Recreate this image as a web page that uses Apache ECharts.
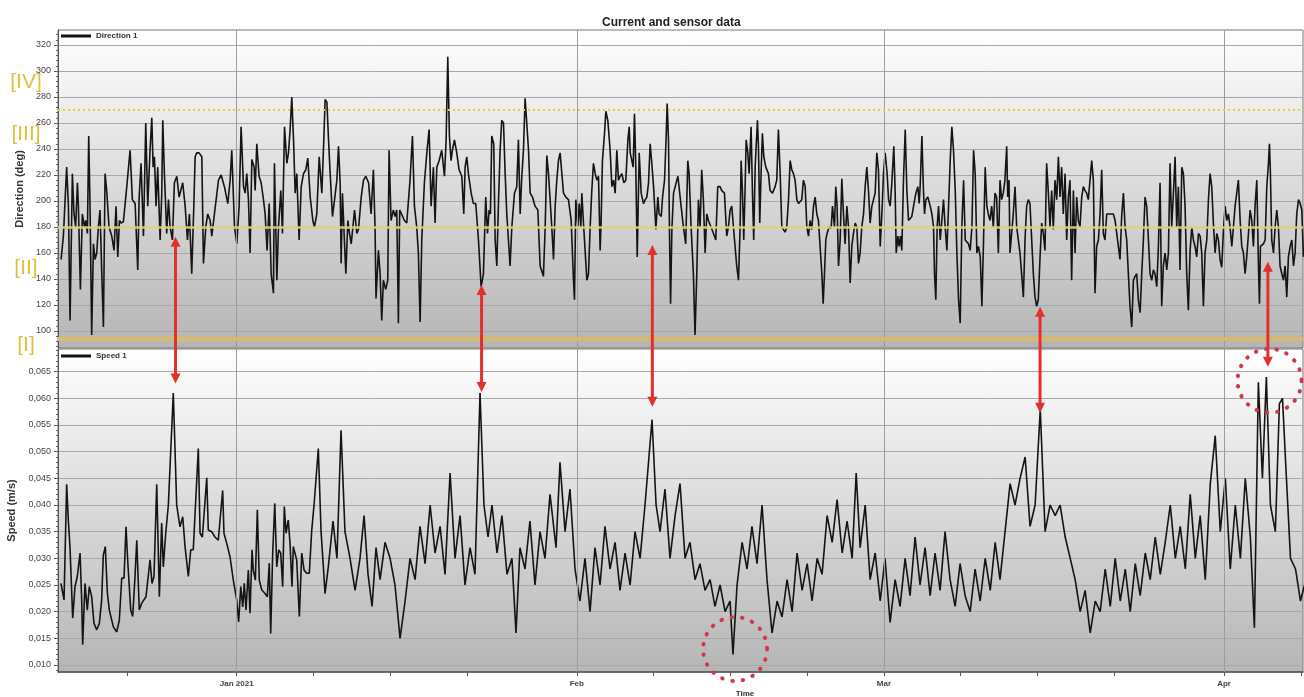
<!DOCTYPE html>
<html>
<head>
<meta charset="utf-8">
<script src="https://cdn.jsdelivr.net/npm/echarts@6/dist/echarts.min.js"></script>
<style>
html,body{margin:0;padding:0;background:#fff;}
#chart{width:1304px;height:697px;}
</style>
</head>
<body>
<div id="chart"></div>
<script>
// Time is measured in days since 2020-12-15 00:00.
const directionPoints = [
[0.99,155],[1.20,173],[1.50,226],[1.66,196],[1.81,108],[2.02,221],[2.17,190],[2.32,180],[2.48,214],[2.57,196],[2.75,132],[2.93,190],[3.12,180],[3.24,185],[3.39,175],[3.51,250],[3.63,196],[3.78,97],[3.94,167],[4.09,155],[4.24,160],[4.39,180],[4.54,193],[4.70,144],[4.85,103],[5.00,221],[5.15,208],[5.36,180],[5.61,173],[5.82,162],[6.00,196],[6.16,157],[6.31,185],[6.46,183],[6.67,184],[6.98,211],[7.28,239],[7.49,201],[7.74,198],[7.98,147],[8.10,201],[8.28,229],[8.50,173],[8.71,260],[8.89,196],[9.10,239],[9.26,264],[9.38,226],[9.50,234],[9.65,196],[9.80,226],[10.02,170],[10.17,206],[10.26,262],[10.41,221],[10.62,175],[10.78,201],[10.93,180],[11.14,170],[11.32,214],[11.54,219],[11.75,203],[11.93,203],[12.08,214],[12.30,196],[12.51,170],[12.69,190],[12.90,144],[13.09,196],[13.21,234],[13.36,237],[13.57,237],[13.82,234],[13.97,152],[14.18,180],[14.36,190],[14.58,185],[14.73,173],[14.97,190],[15.34,216],[15.58,220],[15.88,211],[16.19,198],[16.40,216],[16.55,239],[16.80,180],[17.01,167],[17.22,196],[17.40,257],[17.62,211],[17.77,206],[17.92,221],[18.07,201],[18.22,160],[18.38,232],[18.59,226],[18.68,208],[18.83,244],[19.04,219],[19.23,214],[19.44,201],[19.59,190],[19.77,162],[19.96,198],[20.14,144],[20.35,129],[20.44,229],[20.66,139],[20.81,180],[21.02,208],[21.17,175],[21.36,257],[21.57,229],[21.72,237],[21.87,255],[22.02,280],[22.18,247],[22.33,206],[22.48,221],[22.69,170],[22.88,211],[23.09,221],[23.30,224],[23.48,233],[23.70,203],[23.94,185],[24.09,180],[24.30,190],[24.52,234],[24.76,206],[24.94,247],[25.06,278],[25.22,276],[25.37,247],[25.52,221],[25.73,188],[25.92,201],[26.13,216],[26.28,242],[26.43,214],[26.52,152],[26.64,206],[26.83,167],[26.95,144],[27.13,185],[27.28,175],[27.44,167],[27.59,180],[27.74,193],[27.95,175],[28.10,178],[28.35,203],[28.56,216],[28.77,219],[29.02,214],
[29.25,190],[29.46,224],[29.61,180],[29.70,125],[29.92,162],[30.07,144],[30.22,108],[30.37,139],[30.58,132],[30.77,139],[30.89,239],[31.07,185],[31.28,193],[31.44,188],[31.59,193],[31.74,106],[31.86,193],[32.04,193],[32.29,185],[32.50,183],[32.80,216],[33.02,250],[33.20,196],[33.41,180],[33.56,160],[33.72,107],[33.87,170],[34.11,214],[34.35,239],[34.54,255],[34.72,196],[34.93,226],[35.08,183],[35.24,226],[35.45,231],[35.69,239],[35.94,219],[36.09,247],[36.24,311],[36.39,250],[36.54,231],[36.66,239],[36.85,247],[37.06,237],[37.27,224],[37.52,219],[37.70,190],[37.82,226],[37.97,234],[38.12,221],[38.37,206],[38.58,198],[38.79,198],[39.04,170],[39.28,134],[39.49,144],[39.70,203],[39.86,175],[40.01,193],[40.13,190],[40.25,250],[40.43,244],[40.56,170],[40.71,150],[40.86,198],[41.01,239],[41.16,262],[41.32,260],[41.47,221],[41.62,190],[41.77,170],[41.92,150],[42.08,180],[42.32,206],[42.53,211],[42.68,247],[42.84,190],[42.99,219],[43.14,239],[43.29,279],[43.44,260],[43.60,239],[43.75,206],[43.96,203],[44.20,196],[44.45,193],[44.66,150],[44.96,142],[45.12,180],[45.27,235],[45.42,221],[45.57,201],[45.72,180],[45.88,155],[46.03,196],[46.18,216],[46.33,231],[46.48,237],[46.64,221],[46.79,206],[47.00,203],[47.24,201],[47.49,185],[47.70,139],[47.79,124],[47.91,201],[48.10,180],[48.22,198],[48.37,180],[48.46,206],[48.61,183],[48.76,162],[48.92,139],[49.07,144],[49.22,180],[49.37,208],[49.52,229],[49.68,221],[49.83,216],[49.98,219],[50.13,162],[50.22,185],[50.34,231],[50.53,252],[50.65,269],[50.83,262],[51.04,239],[51.20,211],[51.35,216],[51.50,206],[51.65,239],[51.80,216],[51.96,219],[52.11,221],[52.29,214],[52.47,216],[52.66,247],[52.78,257],[52.87,237],[53.02,231],[53.14,226],[53.26,267],[53.38,226],[53.51,157],[53.69,237],[53.87,206],[54.08,198],[54.24,201],[54.39,203],[54.54,214],[54.69,244],[54.84,229],[55.00,211],[55.21,178],[55.39,203],[55.51,190],[55.70,188],[55.82,203],[56.00,216],[56.15,250],[56.24,275],[56.36,247],[56.46,170],[56.55,121],[56.67,178],[56.82,206],[56.97,211],[57.22,219],
[57.51,196],[57.72,180],[57.93,167],[58.12,231],[58.24,221],[58.42,180],[58.63,144],[58.78,97],[58.94,144],[59.09,201],[59.24,180],[59.39,224],[59.54,201],[59.70,160],[59.85,190],[60.00,185],[60.24,180],[60.46,175],[60.67,170],[60.85,211],[61.06,211],[61.22,208],[61.46,206],[61.67,173],[61.82,180],[61.98,193],[62.13,196],[62.28,180],[62.43,165],[62.58,150],[62.74,139],[62.89,180],[62.98,231],[63.10,208],[63.22,170],[63.34,208],[63.44,247],[63.59,237],[63.71,221],[63.89,257],[64.01,208],[64.13,170],[64.26,226],[64.35,242],[64.47,262],[64.56,242],[64.68,183],[64.80,221],[64.92,252],[65.05,234],[65.23,226],[65.47,221],[65.62,208],[65.84,206],[66.08,211],[66.23,216],[66.38,255],[66.54,221],[66.69,180],[66.84,178],[66.99,176],[67.14,180],[67.30,201],[67.45,231],[67.60,224],[67.75,221],[67.90,216],[68.06,201],[68.21,198],[68.36,198],[68.51,201],[68.66,216],[68.82,211],[68.97,180],[69.12,173],[69.27,185],[69.42,178],[69.58,196],[69.73,203],[69.88,190],[70.03,185],[70.18,184],[70.34,144],[70.46,121],[70.58,144],[70.70,170],[70.82,175],[71.00,180],[71.19,179],[71.31,196],[71.49,180],[71.61,211],[71.73,196],[71.86,150],[72.01,170],[72.16,217],[72.31,190],[72.46,167],[72.62,196],[72.77,180],[72.92,137],[73.07,165],[73.22,175],[73.38,183],[73.53,180],[73.68,152],[73.83,160],[73.98,180],[74.14,190],[74.29,211],[74.44,226],[74.59,208],[74.74,183],[74.90,196],[75.05,201],[75.20,206],[75.35,237],[75.50,224],[75.66,165],[75.81,190],[75.96,221],[76.11,237],[76.29,221],[76.42,201],[76.57,196],[76.72,214],[76.90,242],[77.02,208],[77.12,160],[77.27,173],[77.39,165],[77.51,173],[77.63,162],[77.78,216],[77.94,255],[78.09,208],[78.24,185],[78.39,185],[78.54,188],[78.70,196],[78.91,206],[79.09,211],[79.21,198],[79.30,211],[79.46,250],[79.61,206],[79.70,190],[79.82,201],[80.00,203],[80.22,196],[80.37,190],[80.52,180],[80.61,144],[80.73,124],[80.85,180],[80.98,196],[81.13,170],[81.28,185],[81.43,201],[81.58,180],[81.74,162],[81.89,196],[82.04,231],[82.19,257],[82.34,239],[82.50,208],[82.65,160],[82.80,124],[82.95,106],[83.10,180],[83.26,216],[83.41,170],[83.56,170],[83.71,167],[83.86,162],[84.02,180],[84.17,239],[84.32,221],[84.47,160],[84.62,165],[84.78,157],[84.93,119],[85.08,170],[85.23,226],[85.38,196],
[85.51,190],[85.67,185],[85.82,196],[85.97,180],[86.12,206],[86.27,203],[86.43,160],[86.58,216],[86.73,201],[86.88,206],[87.03,216],[87.19,242],[87.28,203],[87.40,216],[87.49,160],[87.64,175],[87.79,190],[87.95,211],[88.10,180],[88.25,170],[88.40,160],[88.55,144],[88.71,126],[88.86,170],[89.01,196],[89.16,201],[89.31,198],[89.47,170],[89.62,144],[89.77,126],[89.92,119],[90.07,124],[90.23,157],[90.38,183],[90.53,175],[90.68,162],[90.83,229],[90.99,206],[91.14,180],[91.29,208],[91.44,178],[91.59,216],[91.75,201],[91.90,234],[92.05,203],[92.20,226],[92.35,190],[92.51,221],[92.66,170],[92.81,203],[92.96,216],[93.11,139],[93.27,208],[93.42,160],[93.57,203],[93.72,185],[93.87,180],[94.03,203],[94.18,211],[94.33,208],[94.48,206],[94.63,201],[94.79,201],[94.94,231],[95.09,216],[95.24,129],[95.39,165],[95.55,170],[95.70,190],[95.85,224],[96.00,175],[96.15,170],[96.31,190],[96.61,190],[96.91,190],[97.07,185],[97.22,175],[97.37,165],[97.52,155],[97.67,188],[97.83,206],[97.98,180],[98.13,170],[98.28,144],[98.43,119],[98.59,103],[98.74,139],[98.89,142],[99.04,144],[99.19,124],[99.35,114],[99.50,144],[99.65,170],[99.80,203],[99.95,196],[100.11,170],[100.26,144],[100.41,139],[100.56,147],[100.71,144],[100.87,134],[101.02,165],[101.17,214],[101.32,119],[101.47,150],[101.63,160],[101.78,147],[101.93,160],[102.08,229],[102.23,180],[102.39,206],[102.54,234],[102.69,180],[102.84,211],[102.99,147],[103.15,226],[103.30,221],[103.45,196],[103.60,144],[103.75,116],[103.91,162],[104.06,180],[104.21,170],[104.36,165],[104.51,157],[104.67,175],[104.82,173],[104.97,160],[105.12,119],[105.27,160],[105.43,170],[105.58,201],[105.73,221],[105.88,211],[106.03,183],[106.19,160],[106.34,175],[106.49,170],[106.64,155],[106.79,149],[106.95,178],[107.10,196],[107.25,185],[107.40,190],[107.55,180],[107.71,165],[107.86,180],[108.01,196],[108.16,206],[108.31,216],[108.47,185],[108.62,165],[108.77,160],[108.92,144],[109.07,157],[109.23,175],[109.38,193],[109.53,185],[109.68,165],[109.83,196],[109.99,216],[110.14,150],[110.23,121],[110.32,165],[110.44,165],[110.59,167],[110.75,170],[110.90,211],[111.05,229],[111.14,244],[111.23,221],[111.35,170],[111.51,160],[111.66,180],[111.81,193],[111.96,180],[112.11,150],[112.27,144],[112.42,139],[112.57,150],[112.72,126],[112.87,157],[113.03,165],[113.18,170],[113.33,150],[113.48,160],[113.63,190],[113.79,201],[113.94,198],[114.09,193],[114.24,157]
];

const speedPoints = [
[0.98,0.0253],[1.26,0.0222],[1.50,0.0439],[1.65,0.0372],[1.80,0.0322],[2.05,0.0188],[2.26,0.0247],[2.47,0.0266],[2.72,0.0310],[2.87,0.0222],[2.96,0.0138],[3.17,0.0253],[3.38,0.0203],[3.56,0.0247],[3.78,0.0228],[3.99,0.0178],[4.24,0.0166],[4.48,0.0178],[4.69,0.0222],[4.84,0.0306],[5.02,0.0322],[5.21,0.0235],[5.39,0.0203],[5.75,0.0172],[6.06,0.0162],[6.30,0.0184],[6.52,0.0263],[6.73,0.0263],[6.91,0.0359],[7.06,0.0297],[7.34,0.0203],[7.52,0.0191],[7.73,0.0266],[7.89,0.0334],[8.12,0.0203],[8.34,0.0216],[8.73,0.0228],[9.10,0.0297],[9.28,0.0253],[9.46,0.0266],[9.71,0.0439],[9.95,0.0228],[10.16,0.0366],[10.31,0.0284],[10.53,0.0347],[10.77,0.0400],[11.22,0.0610],[11.53,0.0400],[11.83,0.0359],[12.08,0.0378],[12.29,0.0322],[12.59,0.0266],[12.81,0.0316],[13.04,0.0316],[13.50,0.0506],[13.66,0.0347],[13.87,0.0340],[14.27,0.0451],[14.41,0.0353],[14.72,0.0350],[15.02,0.0340],[15.32,0.0334],[15.72,0.0427],[15.84,0.0347],[16.09,0.0328],[16.39,0.0303],[16.69,0.0259],[17.00,0.0222],[17.18,0.0181],[17.37,0.0247],[17.55,0.0209],[17.69,0.0253],[17.85,0.0203],[18.06,0.0278],[18.21,0.0197],[18.40,0.0316],[18.51,0.0278],[18.70,0.0259],[18.88,0.0391],[19.06,0.0259],[19.28,0.0241],[19.58,0.0234],[19.79,0.0228],[19.97,0.0291],[20.10,0.0159],[20.28,0.0309],[20.47,0.0403],[20.65,0.0284],[20.83,0.0316],[21.01,0.0310],[21.19,0.0247],[21.34,0.0397],[21.50,0.0347],[21.70,0.0372],[21.86,0.0328],[22.04,0.0247],[22.16,0.0322],[22.47,0.0297],[22.71,0.0191],[22.93,0.0310],[23.14,0.0278],[23.38,0.0272],[23.62,0.0272],[23.84,0.0353],[24.05,0.0400],[24.44,0.0506],[24.69,0.0350],[24.90,0.0284],[25.05,0.0234],[25.35,0.0284],
[25.78,0.037],[26.14,0.030],[26.51,0.054],[26.87,0.035],[27.33,0.030],[27.79,0.024],[28.24,0.030],[28.61,0.038],[28.97,0.027],[29.34,0.021],[29.70,0.032],[30.07,0.026],[30.52,0.033],[30.98,0.030],[31.43,0.025],[31.89,0.015],[32.35,0.022],[32.80,0.030],[33.26,0.026],[33.71,0.036],[34.17,0.029],[34.63,0.040],[35.08,0.031],[35.54,0.036],[35.99,0.027],[36.45,0.046],[36.90,0.030],[37.36,0.038],[37.81,0.025],[38.27,0.032],[38.72,0.027],[39.18,0.061],[39.54,0.040],[39.91,0.034],[40.27,0.040],[40.73,0.031],[41.18,0.038],[41.64,0.027],[42.09,0.030],[42.46,0.016],[42.82,0.032],[43.28,0.028],[43.73,0.037],[44.19,0.025],[44.65,0.035],[45.10,0.030],[45.56,0.042],[46.11,0.032],[46.47,0.048],[46.93,0.035],[47.38,0.043],[47.84,0.028],[48.29,0.022],[48.75,0.030],[49.21,0.020],[49.66,0.032],[50.12,0.025],[50.57,0.036],[51.03,0.028],[51.49,0.033],[51.94,0.024],[52.40,0.031],[52.86,0.025],[53.31,0.035],[53.77,0.030],[54.22,0.040],[54.86,0.056],[55.23,0.040],[55.59,0.035],[56.04,0.043],[56.50,0.030],[56.96,0.038],[57.41,0.044],[57.87,0.030],[58.32,0.033],[58.78,0.026],[59.23,0.029],[59.69,0.024],[60.15,0.026],[60.60,0.021],[61.06,0.025],[61.52,0.020],[61.97,0.022],[62.24,0.012],[62.61,0.025],[63.07,0.033],[63.52,0.028],[63.97,0.036],[64.43,0.029],[64.89,0.040],[65.34,0.026],[65.80,0.016],[66.26,0.022],[66.71,0.019],[67.17,0.026],[67.63,0.020],[68.08,0.031],[68.54,0.024],[69.00,0.029],[69.45,0.022],[69.91,0.030],[70.36,0.027],[70.82,0.038],[71.28,0.033],[71.73,0.041],[72.19,0.031],[72.64,0.037],[73.10,0.030],[73.47,0.046],[73.83,0.032],[74.29,0.040],[74.74,0.026],[75.20,0.031],[75.66,0.022],[76.10,0.030],[76.56,0.018],[77.02,0.026],[77.47,0.021],[77.93,0.030],[78.38,0.023],[78.84,0.034],[79.29,0.025],[79.75,0.032],[80.21,0.023],[80.66,0.031],[81.12,0.024],[81.57,0.035],[82.03,0.026],[82.49,0.021],[82.94,0.029],[83.40,0.023],[83.86,0.020],[84.31,0.028],[84.77,0.022],[85.23,0.030],[85.69,0.024],[86.14,0.033],[86.58,0.026],[87.04,0.035],[87.50,0.044],[87.95,0.040],[88.41,0.045],[88.87,0.049],[89.32,0.036],[89.78,0.040],[90.25,0.058],[90.69,0.035],[91.15,0.040],[91.61,0.038],[92.06,0.040],[92.52,0.034],[92.98,0.030],[93.43,0.026],[93.89,0.020],[94.34,0.024],[94.80,0.016],[95.26,0.022],[95.71,0.020],[96.17,0.028],[96.63,0.021],[97.08,0.030],[97.54,0.022],[98.00,0.028],[98.45,0.020],[98.91,0.029],[99.36,0.023],[99.82,0.031],[100.27,0.026],[100.73,0.034],[101.19,0.027],[101.64,0.033],[102.10,0.040],[102.56,0.030],[103.01,0.036],[103.47,0.028],[103.92,0.042],[104.38,0.030],[104.83,0.038],[105.29,0.026],[105.75,0.044],[106.20,0.053],[106.66,0.035],[107.12,0.045],[107.57,0.028],[108.03,0.040],[108.49,0.030],[108.94,0.045],[109.40,0.034],[109.77,0.017],[110.13,0.063],[110.50,0.045],[110.86,0.064],[111.23,0.040],[111.68,0.035],[112.05,0.059],[112.33,0.060],[112.69,0.045],[113.06,0.030],[113.52,0.028],[113.97,0.022],[114.34,0.025]
];

// Axis ranges and ticks
const dayMin = 0.71, dayMax = 114.2;
const dirMin = 86.9, dirMax = 331.5;
const speedMin = 0.00869, speedMax = 0.06925;
const dirTicks = [100, 120, 140, 160, 180, 200, 220, 240, 260, 280, 300, 320];
const speedTicks = [0.010, 0.015, 0.020, 0.025, 0.030, 0.035, 0.040, 0.045, 0.050, 0.055, 0.060, 0.065];
const monthDays = [17, 48, 76, 107];
const monthLabels = ['Jan 2021', 'Feb', 'Mar', 'Apr'];
const weekTickDays = [7, 17, 24, 31, 38, 48, 55, 62, 69, 76, 83, 90, 97, 107, 114];

// Sector limits on the direction panel
const sectorLines = [270, 180, 94];
const sectorLabels = [['[IV]', 291], ['[III]', 251], ['[II]', 148], ['[I]', 89]];

// Arrows linking a direction dip with a speed peak, and the highlighted speed extremes
const links = [[11.42, 172.5, 0.0628], [39.32, 135.4, 0.0612], [54.89, 166.2, 0.0584], [90.23, 118.7, 0.0573], [111.0, 153.3, 0.0659]];
const highlights = [[62.43, 0.0130], [111.15, 0.0633]];

const dirMinor = [];
for (let v = 88; v <= 328; v += 4) dirMinor.push(v);
const speedMinor = [];
for (let i = 9; i <= 69; i++) speedMinor.push(i / 1000);

const FONT = 'Liberation Sans, Arial, sans-serif';
const chart = echarts.init(document.getElementById('chart'), null, { renderer: 'canvas' });

const panelFill = () => new echarts.graphic.LinearGradient(0, 0, 0, 1, [
  { offset: 0, color: '#ffffff' },
  { offset: 1, color: '#b5b5b5' }
]);

const monthLines = monthDays.map(d => ({ xAxis: d, lineStyle: { color: '#9c9c9c', width: 1, type: 'solid' } }));

const valueAxisBase = {
  type: 'value',
  axisLine: { show: true, lineStyle: { color: '#555', width: 1 } },
  axisTick: { show: true, length: 4, lineStyle: { color: '#555' } },
  axisLabel: { fontSize: 9, color: '#444', margin: 7, fontFamily: FONT },
  splitLine: { show: true, lineStyle: { color: '#a9a9a9', width: 1 } },
  nameLocation: 'middle',
  nameGap: 33,
  nameTextStyle: { fontSize: 11, fontWeight: 'bold', color: '#333', fontFamily: FONT }
};

const minorAxis = (grid, min, max, ticks) => ({
  type: 'value', gridIndex: grid, min, max, position: 'left', offset: 0,
  axisLine: { show: false },
  axisTick: { show: true, length: 2, customValues: ticks, lineStyle: { color: '#666' } },
  axisLabel: { show: false },
  splitLine: { show: false }
});

const legendBase = {
  icon: 'rect', itemWidth: 30, itemHeight: 3, padding: 0, selectedMode: false,
  textStyle: { fontSize: 8, fontWeight: 'bold', color: '#333', fontFamily: FONT }
};

chart.setOption({
  animation: false,
  backgroundColor: '#ffffff',
  title: {
    text: 'Current and sensor data', left: 597, top: 12,
    textStyle: { fontSize: 12, fontWeight: 'bold', color: '#222', fontFamily: FONT }
  },
  legend: [
    Object.assign({ data: ['Direction 1'], left: 61, top: 32 }, legendBase),
    Object.assign({ data: ['Speed 1'], left: 61, top: 352 }, legendBase)
  ],
  grid: [
    { left: 58, right: 1, top: 30, height: 318, show: true, backgroundColor: panelFill(), borderColor: '#777', borderWidth: 1, outerBoundsMode: 'none', containLabel: false },
    { left: 58, right: 1, top: 349, height: 323, show: true, backgroundColor: panelFill(), borderColor: '#777', borderWidth: 1, outerBoundsMode: 'none', containLabel: false }
  ],
  xAxis: [
    { type: 'value', gridIndex: 0, min: dayMin, max: dayMax, axisLine: { show: false }, axisTick: { show: false }, axisLabel: { show: false }, splitLine: { show: false } },
    {
      type: 'value', gridIndex: 1, min: dayMin, max: dayMax,
      axisLine: { show: true, lineStyle: { color: '#555', width: 1.5 } },
      axisTick: { show: true, length: 4, customValues: weekTickDays, lineStyle: { color: '#555' } },
      axisLabel: {
        customValues: monthDays, fontSize: 8, fontWeight: 'bold', color: '#444', margin: 8,
        fontFamily: FONT,
        formatter: v => monthLabels[monthDays.indexOf(Math.round(v))] || ''
      },
      splitLine: { show: false }
    }
  ],
  yAxis: [
    Object.assign({}, valueAxisBase, {
      gridIndex: 0, min: dirMin, max: dirMax, name: 'Direction (deg)',
      axisTick: Object.assign({}, valueAxisBase.axisTick, { customValues: dirTicks }),
      axisLabel: Object.assign({}, valueAxisBase.axisLabel, { customValues: dirTicks })
    }),
    Object.assign({}, valueAxisBase, {
      gridIndex: 1, min: speedMin, max: speedMax, name: 'Speed (m/s)',
      axisTick: Object.assign({}, valueAxisBase.axisTick, { customValues: speedTicks }),
      axisLabel: Object.assign({}, valueAxisBase.axisLabel, {
        customValues: speedTicks,
        formatter: v => v.toFixed(3).replace('.', ',')
      })
    }),
    minorAxis(0, dirMin, dirMax, dirMinor),
    minorAxis(1, speedMin, speedMax, speedMinor)
  ],
  series: [
    {
      name: 'Direction 1', type: 'line', xAxisIndex: 0, yAxisIndex: 0,
      data: directionPoints, showSymbol: false, symbol: 'none', clip: true,
      lineStyle: { color: '#141414', width: 1.6 }, itemStyle: { color: '#141414' },
      markLine: {
        silent: true, symbol: 'none', label: { show: false }, animation: false,
        data: monthLines.concat([
          { yAxis: sectorLines[0], lineStyle: { color: '#e8cf36', width: 2, type: [2, 3] } },
          { yAxis: sectorLines[1], lineStyle: { color: '#e5d27a', width: 2.5, type: 'solid', opacity: 0.9 } },
          { yAxis: sectorLines[2], lineStyle: { color: '#d9bb66', width: 4, type: 'solid' } }
        ])
      }
    },
    {
      name: 'Speed 1', type: 'line', xAxisIndex: 1, yAxisIndex: 1,
      data: speedPoints, showSymbol: false, symbol: 'none', clip: true,
      lineStyle: { color: '#141414', width: 1.6 }, itemStyle: { color: '#141414' },
      markLine: {
        silent: true, symbol: 'none', label: { show: false }, animation: false,
        data: monthLines
      }
    }
  ]
});

// Annotations placed from data values through the axes
const topPx = (d, v) => chart.convertToPixel({ seriesIndex: 0 }, [d, v]);
const botPx = (d, v) => chart.convertToPixel({ seriesIndex: 1 }, [d, v]);
const red = '#e2312d';
const graphics = [];

links.forEach(([d, dir, spd]) => {
  const a = topPx(d, dir);
  const b = botPx(d, spd);
  const x = a[0];
  const head = 10, half = 5;
  graphics.push({ type: 'line', z: 50, shape: { x1: x, y1: a[1] + head - 1, x2: x, y2: b[1] - head + 1 }, style: { stroke: red, lineWidth: 3 } });
  graphics.push({ type: 'polygon', z: 50, shape: { points: [[x, a[1]], [x - half, a[1] + head], [x + half, a[1] + head]] }, style: { fill: red } });
  graphics.push({ type: 'polygon', z: 50, shape: { points: [[x, b[1]], [x - half, b[1] - head], [x + half, b[1] - head]] }, style: { fill: red } });
});

highlights.forEach(([d, spd]) => {
  const c = botPx(d, spd);
  graphics.push({
    type: 'circle', z: 50, shape: { cx: c[0], cy: c[1], r: 32 },
    style: { fill: 'none', stroke: '#d4364a', lineWidth: 4, lineDash: [0.5, 10], lineCap: 'round' }
  });
});

sectorLabels.forEach(([text, v]) => {
  const p = topPx(dayMin, v);
  graphics.push({
    type: 'text', z: 50, x: 26, y: p[1],
    style: { text, fill: '#e3bd3c', font: '21px "Liberation Sans", Arial, sans-serif', align: 'center', verticalAlign: 'middle' }
  });
});

graphics.push({
  type: 'text', z: 50, x: 745, y: 694,
  style: { text: 'Time', fill: '#333', font: 'bold 8px "Liberation Sans", Arial, sans-serif', align: 'center', verticalAlign: 'middle' }
});

chart.setOption({ graphic: graphics });
</script>
</body>
</html>
